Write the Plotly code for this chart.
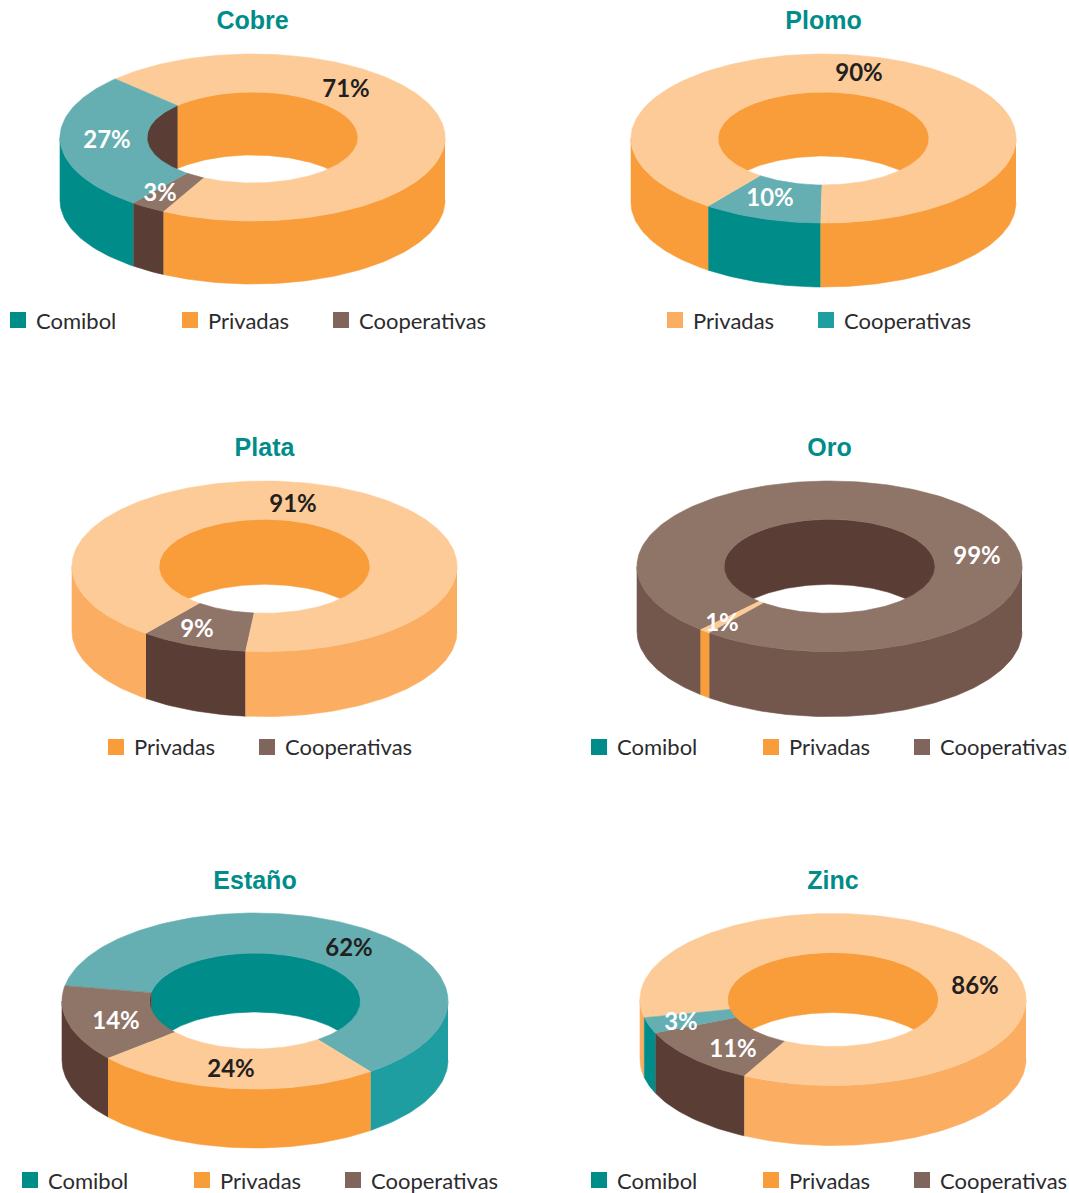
import numpy as np
import plotly.graph_objects as go

# ---------- data ----------
cobre_series = ["Privadas", "Cooperativas", "Comibol"]
cobre_values = [71, 3, 27]
plomo_series = ["Cooperativas", "Privadas"]
plomo_values = [10, 90]
plata_series = ["Cooperativas", "Privadas"]
plata_values = [9, 91]
oro_series = ["Privadas", "Cooperativas"]
oro_values = [1, 99]
estano_series = ["Comibol", "Privadas", "Cooperativas"]
estano_values = [62, 24, 14]
zinc_series = ["Privadas", "Cooperativas", "Comibol"]
zinc_values = [86, 11, 3]

# ---------- palette ----------
PEACH, ORANGE, SOFT = "#FDCB98", "#F99D3A", "#FBAE62"
TEALTOP, TEAL, TEAL2 = "#65AFB2", "#008D8A", "#1E9EA0"
BROWNTOP, DARK, BROWN2 = "#8F7468", "#5A3D34", "#73574C"
INK, WHITE = "#231F20", "#FFFFFF"
W, H = 1069, 1193

# ---------- layout of each panel (pixels on the page) ----------
panels = [
    dict(title="Cobre", series=cobre_series, values=cobre_values, start=314.5,
         cx=252.5, cy=137.5, rx=192.5, ry=83.5, ix=105.5, iy=45.5, depth=63,
         top=[PEACH, BROWNTOP, TEALTOP], wall=[ORANGE, DARK, TEAL], inner=[ORANGE, DARK, DARK],
         labels=[(346, 88, INK), (160, 192, WHITE), (107, 139, WHITE)], title_y=20, legend_y=320,
         legend=[("Comibol", 10, TEAL), ("Privadas", 182, ORANGE), ("Cooperativas", 333, "#80655C")]),
    dict(title="Plomo", series=plomo_series, values=plomo_values, start=180.8,
         cx=823.5, cy=138.5, rx=192.5, ry=84.5, ix=105.5, iy=46.5, depth=64,
         top=[TEALTOP, PEACH], wall=[TEAL, ORANGE], inner=[TEAL, ORANGE],
         labels=[(770, 197, WHITE), (859, 72, INK)], title_y=20, legend_y=320,
         legend=[("Privadas", 667, SOFT), ("Cooperativas", 818, TEAL2)]),
    dict(title="Plata", series=plata_series, values=plata_values, start=185.6,
         cx=264.5, cy=566.3, rx=192.5, ry=85.3, ix=105.5, iy=47, depth=65,
         top=[BROWNTOP, PEACH], wall=[DARK, SOFT], inner=[DARK, ORANGE],
         labels=[(197, 628, WHITE), (293, 503, INK)], title_y=447, legend_y=747,
         legend=[("Privadas", 108, ORANGE), ("Cooperativas", 259, "#80655C")]),
    dict(title="Oro", series=oro_series, values=oro_values, start=218.5,
         cx=829.5, cy=566.3, rx=192.5, ry=85.3, ix=105.5, iy=47, depth=65,
         top=[PEACH, BROWNTOP], wall=[ORANGE, BROWN2], inner=[DARK, DARK],
         labels=[(722, 622, WHITE), (977, 555, WHITE)], title_y=447, legend_y=747,
         legend=[("Comibol", 591, TEAL), ("Privadas", 763, ORANGE), ("Cooperativas", 914, "#80655C")]),
    dict(title="Estaño", series=estano_series, values=estano_values, start=280,
         cx=255, cy=1001, rx=193, ry=88, ix=105.5, iy=48, depth=59,
         top=[TEALTOP, PEACH, BROWNTOP], wall=[TEAL2, ORANGE, DARK], inner=[TEAL, ORANGE, DARK],
         labels=[(349, 947, INK), (231, 1068, INK), (116, 1020, WHITE)], title_y=880, legend_y=1180,
         legend=[("Comibol", 22, TEAL), ("Privadas", 194, ORANGE), ("Cooperativas", 345, "#80655C")]),
    dict(title="Zinc", series=zinc_series, values=zinc_values, start=257.8,
         cx=833, cy=999.5, rx=193, ry=86, ix=105.5, iy=47, depth=60,
         top=[PEACH, BROWNTOP, TEALTOP], wall=[SOFT, DARK, TEAL], inner=[ORANGE, DARK, ORANGE],
         labels=[(975, 985, INK), (733, 1048, WHITE), (681, 1021, WHITE)], title_y=880, legend_y=1180,
         legend=[("Comibol", 591, TEAL), ("Privadas", 763, ORANGE), ("Cooperativas", 914, "#80655C")]),
]
SQUARE = 16
TEXT_GAP = 10
TITLE_DY, LABEL_DY, LEGEND_DY = 3, 3, 3
TITLE_FONT = dict(family="Liberation Sans", size=25, color="#008D8A", weight="bold")
LABEL_FONT = "Lato"
LEGEND_FONT = dict(family="Lato", size=22, color="#2B2B2D")


def arc(rx, ry, a0, a1, dy=0.0):
    """Points of an elliptical arc; angles clockwise from the top, in degrees."""
    n = max(2, int(abs(a1 - a0) / 1.5) + 2)
    t = np.radians(np.linspace(a0, a1, n))
    return rx * np.sin(t), ry * np.cos(t) - dy


def clip_spans(a0, a1, spans):
    out = []
    for lo, hi in spans:
        s, e = max(a0, lo), min(a1, hi)
        if e > s:
            out.append((s, e))
    return out


FRONT = [(90 + k * 360, 270 + k * 360) for k in range(-1, 3)]
BACK = [(-90 + k * 360, 90 + k * 360) for k in range(-1, 3)]


def poly(xs, ys, color, ax):
    return go.Scatter(x=np.round(xs, 2), y=np.round(ys, 2), mode="lines", fill="toself", fillcolor=color,
                      line=dict(color=color, width=0.6), hoverinfo="skip", showlegend=False,
                      xaxis=f"x{ax}", yaxis=f"y{ax}")


fig = go.Figure()
layout_axes = {}
for i, p in enumerate(panels, start=1):
    total = sum(p["values"])
    sweeps = [v / total * 360 for v in p["values"]]
    bounds = p["start"] + np.concatenate([[0], np.cumsum(sweeps)])
    walls, inners, tops = [], [], []
    for k in range(len(sweeps)):
        a0, a1 = bounds[k], bounds[k + 1]
        for s, e in clip_spans(a0, a1, FRONT):
            x1, y1 = arc(p["rx"], p["ry"], s, e)
            x2, y2 = arc(p["rx"], p["ry"], e, s, p["depth"])
            walls.append(poly(np.r_[x1, x2], np.r_[y1, y2], p["wall"][k], i))
        for s, e in clip_spans(a0, a1, BACK):
            x1, y1 = arc(p["ix"], p["iy"], s, e)
            x2, y2 = arc(p["ix"], p["iy"], e, s, p["depth"])
            inners.append(poly(np.r_[x1, x2], np.r_[y1, y2], p["inner"][k], i))
        x1, y1 = arc(p["rx"], p["ry"], a0, a1)
        x2, y2 = arc(p["ix"], p["iy"], a1, a0)
        tops.append(poly(np.r_[x1, x2], np.r_[y1, y2], p["top"][k], i))
    fig.add_traces(walls + inners + tops)

    cx, cy = p["cx"], p["cy"]
    # percentage labels
    for v, (lx, ly, col) in zip(p["values"], p["labels"]):
        fig.add_trace(go.Scatter(x=[lx - cx], y=[cy - ly - LABEL_DY], mode="text", text=[f"{v}%"],
                                 textposition="middle center", cliponaxis=False, hoverinfo="skip",
                                 textfont=dict(family=LABEL_FONT, size=24, color=col, weight="bold"),
                                 showlegend=False, xaxis=f"x{i}", yaxis=f"y{i}"))
    # title
    fig.add_trace(go.Scatter(x=[0], y=[cy - p["title_y"] - TITLE_DY], mode="text", text=[p["title"]],
                             textposition="middle center", cliponaxis=False, hoverinfo="skip",
                             textfont=TITLE_FONT, showlegend=False, xaxis=f"x{i}", yaxis=f"y{i}"))
    # legend
    for name, lx, col in p["legend"]:
        my = cy - p["legend_y"]
        fig.add_trace(go.Scatter(x=[lx + SQUARE / 2 - cx], y=[my], mode="markers",
                                 marker=dict(symbol="square", size=SQUARE, color=col, line=dict(width=0)),
                                 cliponaxis=False, hoverinfo="skip", showlegend=False,
                                 xaxis=f"x{i}", yaxis=f"y{i}"))
        fig.add_trace(go.Scatter(x=[lx + SQUARE + TEXT_GAP - cx], y=[my - LEGEND_DY], mode="text", text=[name],
                                 textposition="middle right", cliponaxis=False, hoverinfo="skip",
                                 textfont=LEGEND_FONT, showlegend=False, xaxis=f"x{i}", yaxis=f"y{i}"))

    # axes: one axis unit is one page pixel, centred on the donut
    left, right = max(0, cx - 250), min(W, cx + 240)
    top, bottom = max(0, cy - 135), min(H, cy + 190)
    suffix = "" if i == 1 else str(i)
    common = dict(visible=False, fixedrange=True, showgrid=False, zeroline=False)
    layout_axes[f"xaxis{suffix}"] = dict(domain=[left / W, right / W], range=[left - cx, right - cx],
                                         anchor=f"y{suffix}", **common)
    layout_axes[f"yaxis{suffix}"] = dict(domain=[1 - bottom / H, 1 - top / H], range=[cy - bottom, cy - top],
                                         anchor=f"x{suffix}", **common)

fig.update_layout(width=W, height=H, margin=dict(l=0, r=0, t=0, b=0), paper_bgcolor="white",
                  plot_bgcolor="rgba(0,0,0,0)", showlegend=False, **layout_axes)
fig.write_html("out.html", config=dict(displayModeBar=False),
               post_script="document.body.style.margin='0';")
